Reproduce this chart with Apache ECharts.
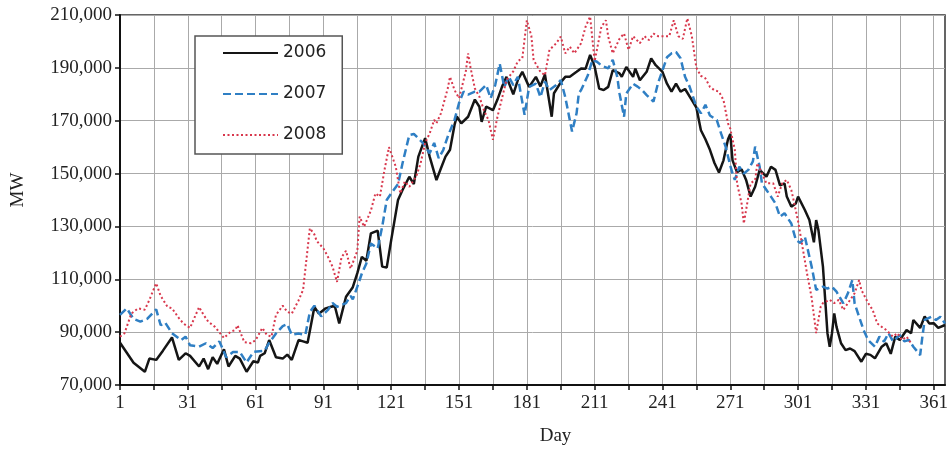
<!DOCTYPE html>
<html><head><meta charset="utf-8">
<script src="https://cdn.jsdelivr.net/npm/echarts@6/dist/echarts.min.js"></script>
<style>html,body{margin:0;padding:0;background:#fff}#c{width:951px;height:454px}</style>
</head><body><div id="c"></div>
<script>
// Day categories 1..366
const dayCount = 366;
const categories = Array.from({length: dayCount}, (_, i) => String(i + 1));
const seriesNames = ['2006', '2007', '2008'];
const yMin = 70000, yMax = 210000, yStep = 20000;

// [day, MW]
const mw2006 = [[1,86000],[7,78400],[12,75000],[14,80000],[17,79500],[20,83000],[24,88000],[27,79500],[30,82000],[32,81000],[36,77000],[38,80000],[40,76000],[42,80500],[44,78000],[47,83500],[49,77000],[52,81000],[54,80000],[57,75000],[60,79000],[62,78500],[63,81000],[65,82000],[67,87000],[70,80500],[73,80000],[75,81500],[77,79500],[80,87000],[82,86500],[84,86000],[87,99500],[89,97000],[92,99000],[94,99500],[96,100000],[98,93300],[101,103400],[104,107000],[106,112300],[108,118500],[110,117000],[112,127400],[115,128400],[117,114800],[119,114400],[121,124900],[124,140000],[126,143800],[129,148800],[131,146000],[133,156400],[136,163400],[138,156400],[141,147500],[143,152000],[145,156400],[147,159000],[149,168400],[150,171600],[152,169000],[155,171500],[158,178000],[160,175300],[161,169600],[163,175300],[166,174000],[168,178000],[170,182800],[172,186600],[175,180000],[177,185400],[179,188500],[182,182800],[185,186600],[187,183000],[189,187500],[192,171500],[193,180400],[196,184500],[198,186600],[200,186600],[203,188500],[205,189800],[207,189700],[209,194900],[211,190400],[213,182200],[215,181600],[217,182800],[219,189100],[222,187900],[223,186600],[225,190300],[228,186600],[229,189700],[231,185300],[234,188500],[236,193600],[238,191000],[241,188500],[243,184000],[245,181000],[247,184000],[249,181000],[251,182000],[254,177800],[256,175000],[258,166400],[260,163000],[262,159000],[264,154000],[266,150400],[268,155000],[270,163000],[271,165000],[272,155000],[274,150500],[276,151600],[278,147600],[280,141300],[282,145000],[284,151400],[287,148800],[289,152600],[291,151400],[293,145500],[295,146300],[296,141300],[298,137500],[300,138700],[301,141300],[304,136200],[306,132400],[308,124000],[309,132400],[310,128600],[312,114800],[313,102200],[314,89600],[315,84500],[316,89600],[317,97100],[318,92000],[320,85800],[322,83200],[324,83800],[326,82800],[329,78800],[331,81800],[333,81400],[335,80100],[338,84500],[340,85800],[342,81800],[344,88300],[346,87000],[349,90800],[351,89600],[352,94600],[355,91600],[357,95900],[359,93300],[361,93400],[363,91600],[366,92700]];

const mw2007 = [[1,96500],[4,99000],[7,95000],[10,94000],[13,95000],[17,98600],[19,92600],[21,93600],[24,89600],[28,87000],[30,88300],[32,85000],[36,84500],[39,85800],[42,84000],[45,86500],[48,80500],[51,82500],[54,82500],[57,78500],[60,82500],[65,83000],[67,86000],[70,89500],[73,92300],[75,93000],[77,89000],[80,89500],[83,89000],[85,97600],[87,100000],[90,96000],[93,98400],[95,101000],[97,99600],[101,101000],[103,103700],[104,102400],[106,107200],[108,112200],[110,116000],[112,123500],[115,121700],[117,129900],[119,140000],[121,142500],[124,146000],[126,153900],[129,164600],[131,165000],[135,161600],[138,157700],[140,161600],[142,155800],[144,158900],[146,164000],[149,170300],[151,176700],[153,181000],[155,179900],[158,181000],[160,181000],[163,183500],[165,178500],[167,183500],[169,191600],[171,182800],[173,186600],[175,183500],[177,186600],[180,172200],[182,182800],[185,184000],[187,178900],[189,184800],[191,181600],[194,183500],[196,185400],[198,178900],[200,170300],[201,165900],[203,172800],[204,180400],[205,181600],[208,187200],[210,193000],[212,192300],[214,190900],[217,189800],[219,193000],[221,186600],[222,180300],[224,171500],[225,180300],[228,184000],[230,182900],[232,181600],[234,179700],[237,177200],[239,184100],[241,189000],[243,194000],[245,195500],[247,196000],[249,193600],[251,186600],[253,182900],[256,175300],[258,172800],[260,176000],[262,172000],[265,170300],[267,165000],[269,160000],[271,153000],[272,150100],[273,147600],[275,152600],[277,150000],[279,151400],[281,154600],[282,160200],[284,152600],[285,146300],[287,143800],[289,141300],[291,138700],[293,133700],[295,135000],[298,131100],[300,124900],[302,123700],[304,126100],[307,114800],[309,106000],[312,107200],[314,106500],[316,107200],[318,105300],[321,100900],[323,104600],[325,109700],[326,100900],[328,95800],[330,90800],[332,87000],[335,84500],[337,88300],[339,86400],[341,89600],[343,86500],[346,88900],[348,86500],[350,87000],[352,84500],[355,81300],[356,88300],[357,94600],[360,95800],[362,94600],[364,95800],[366,93300]];

const mw2008 = [[1,88300],[3,89600],[6,97000],[9,99000],[12,98500],[14,102200],[17,108500],[19,103700],[22,99600],[24,99000],[27,95400],[29,93300],[32,91600],[36,99500],[38,96500],[40,94000],[43,92000],[47,87800],[50,90200],[52,90800],[53,92600],[56,86200],[59,85800],[61,87000],[64,91600],[66,88900],[68,88300],[70,96500],[73,100000],[75,97700],[77,97000],[80,102000],[82,106000],[85,129300],[87,127000],[88,124500],[91,121700],[93,118500],[95,114800],[97,109000],[99,118300],[101,120800],[103,114000],[106,120800],[107,133700],[109,129900],[112,136000],[114,142500],[116,141300],[118,151300],[120,160000],[123,152600],[125,142500],[127,147000],[129,145000],[132,148800],[134,153900],[136,161600],[138,165200],[140,170300],[141,169000],[143,172800],[146,182200],[147,186600],[149,181600],[151,178500],[154,188700],[155,195500],[156,190400],[158,182200],[160,179100],[162,174000],[164,170300],[166,162800],[168,171500],[170,178500],[172,185400],[175,188700],[177,192500],[179,193700],[181,208000],[183,202000],[184,193000],[187,188500],[189,187200],[191,196800],[194,199300],[196,201800],[198,195500],[200,198000],[202,195500],[205,199300],[207,205600],[209,209400],[211,192500],[214,205600],[216,208000],[217,201800],[219,195500],[222,201000],[224,203000],[226,196800],[228,202000],[231,199300],[233,202000],[235,200500],[237,203000],[239,202000],[242,202000],[244,202000],[246,208000],[248,202000],[250,201000],[252,208700],[254,202000],[256,190000],[258,187000],[260,186000],[262,182800],[264,181500],[266,181000],[268,177800],[270,169000],[271,167000],[273,159000],[274,146300],[276,138700],[277,131100],[279,141300],[280,146300],[282,147600],[283,153900],[285,150100],[287,146300],[290,146300],[292,141300],[294,146300],[296,147600],[298,143800],[299,140000],[301,132000],[303,122000],[305,112000],[307,103000],[309,89600],[311,99600],[312,101000],[315,102200],[317,101000],[319,102200],[321,98400],[323,100900],[326,104700],[328,109700],[329,106000],[332,101000],[334,98400],[336,93300],[338,92000],[340,90800],[343,88300],[345,89600],[347,87000],[349,88300],[351,85800]];

const toIdx = arr => arr.map(([d, v]) => [d - 1, v]);
const serif = 'Liberation Serif';

const chart = echarts.init(document.getElementById('c'), null, {renderer: 'canvas'});
chart.setOption({
  animation: false,
  backgroundColor: '#fff',
  grid: {left: 120, right: 6, top: 15, bottom: 69, show: true, borderColor: '#333', borderWidth: 1.5},
  legend: {
    data: seriesNames, orient: 'vertical', left: 195, top: 36,
    itemWidth: 55, itemHeight: 20, itemGap: 21,
    padding: [7, 16, 9, 27],
    borderColor: '#555', borderWidth: 1.5, backgroundColor: '#fff',
    itemStyle: {opacity: 0},
    textStyle: {fontFamily: 'DejaVu Sans', fontSize: 17, color: '#222', lineHeight: 20}
  },
  xAxis: {
    type: 'category', data: categories, boundaryGap: false,
    axisLine: {lineStyle: {color: '#111', width: 2}},
    axisTick: {interval: 14, length: 5, lineStyle: {color: '#111', width: 1.5}},
    axisLabel: {interval: 29, fontFamily: serif, fontSize: 19, color: '#222', margin: 9},
    splitLine: {show: true, interval: 14, lineStyle: {color: '#aaa', width: 1}},
    name: 'Day', nameLocation: 'middle', nameGap: 42,
    nameTextStyle: {fontFamily: serif, fontSize: 19, color: '#222', padding: [0, 0, 0, 46]}
  },
  yAxis: {
    type: 'value', min: yMin, max: yMax, interval: yStep,
    axisLine: {show: true, lineStyle: {color: '#111', width: 2}},
    axisTick: {show: true, length: 5, lineStyle: {color: '#111', width: 1.5}},
    axisLabel: {fontFamily: serif, fontSize: 19, color: '#222', margin: 8,
      formatter: v => v.toLocaleString('en-US')},
    splitLine: {show: true, lineStyle: {color: '#aaa', width: 1}},
    name: 'MW', nameLocation: 'middle', nameGap: 92,
    nameTextStyle: {fontFamily: serif, fontSize: 19, color: '#222', padding: [0, 0, 0, 20]}
  },
  series: [
    {name: '2006', type: 'line', symbol: 'none', data: toIdx(mw2006),
     lineStyle: {color: '#151515', width: 2.5}, itemStyle: {color: '#151515'}},
    {name: '2007', type: 'line', symbol: 'none', data: toIdx(mw2007),
     lineStyle: {color: '#2f7fc4', width: 2.5, type: [8, 4]}, itemStyle: {color: '#2f7fc4'}},
    {name: '2008', type: 'line', symbol: 'none', data: toIdx(mw2008),
     lineStyle: {color: '#d8374c', width: 2, type: [2, 2.5]}, itemStyle: {color: '#d8374c'}}
  ]
});
</script>
</body></html>
